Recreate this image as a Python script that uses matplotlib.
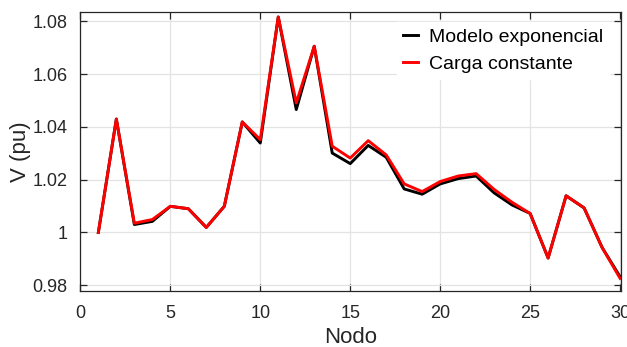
import matplotlib
matplotlib.use('Agg')
import matplotlib.pyplot as plt
import numpy as np

nodes = np.arange(1, 31)

v_exponencial = [1.000, 1.043, 1.003, 1.0042, 1.0099, 1.0090, 1.0019, 1.0099, 1.0419, 1.0339,
                 1.0817, 1.0466, 1.0706, 1.0301, 1.0261, 1.0330, 1.0285, 1.0165, 1.0145, 1.0184,
                 1.0204, 1.0214, 1.0150, 1.0104, 1.0072, 0.9903, 1.0139, 1.0093, 0.9943, 0.9832]

v_constante = [1.000, 1.043, 1.0035, 1.0049, 1.0099, 1.0090, 1.0019, 1.0099, 1.0419, 1.0352,
               1.0817, 1.0491, 1.0706, 1.0327, 1.0282, 1.0348, 1.0294, 1.0184, 1.0155, 1.0193,
               1.0214, 1.0223, 1.0163, 1.0114, 1.0072, 0.9903, 1.0139, 1.0093, 0.9943, 0.9826]

x_ticks = [0, 5, 10, 15, 20, 25, 30]
y_ticks = [0.98, 1.00, 1.02, 1.04, 1.06, 1.08]
y_tick_labels = ['0.98', '1', '1.02', '1.04', '1.06', '1.08']

plt.rcParams['font.family'] = ['Liberation Sans', 'DejaVu Sans']
axis_color = '#262626'

fig = plt.figure(figsize=(6.27, 3.47), dpi=100)
ax = fig.add_axes([0.1276, 0.1614, 0.8628, 0.8026])

ax.plot(nodes, v_exponencial, color='black', linewidth=2.1, label='Modelo exponencial')
ax.plot(nodes, v_constante, color='red', linewidth=2.1, label='Carga constante')

ax.set_xlim(-0.02, 30.05)
ax.set_ylim(0.9778, 1.0834)
ax.set_xticks(x_ticks)
ax.set_yticks(y_ticks)
ax.set_yticklabels(y_tick_labels)

ax.grid(True, color='#e3e3e3', linewidth=0.9)
ax.set_axisbelow(True)
for spine in ax.spines.values():
    spine.set_color(axis_color)
    spine.set_linewidth(0.9)
ax.tick_params(direction='in', length=5, width=0.9, top=True, right=True,
               colors=axis_color, labelsize=13)
ax.tick_params(axis='x', pad=10)
ax.tick_params(axis='y', pad=9)

ax.set_xlabel('Nodo', fontsize=16, color=axis_color, labelpad=4)
ax.set_ylabel('V (pu)', fontsize=16, color=axis_color, labelpad=1)

leg = ax.legend(loc='upper right', fontsize=14, frameon=True, fancybox=False,
                handlelength=0.75, handletextpad=0.55, borderpad=0.3,
                labelspacing=0.5, bbox_to_anchor=(0.995, 1.0))
leg.get_frame().set_edgecolor('white')
leg.get_frame().set_facecolor('white')
leg.get_frame().set_alpha(1.0)

fig.savefig('out.png', dpi=100)
